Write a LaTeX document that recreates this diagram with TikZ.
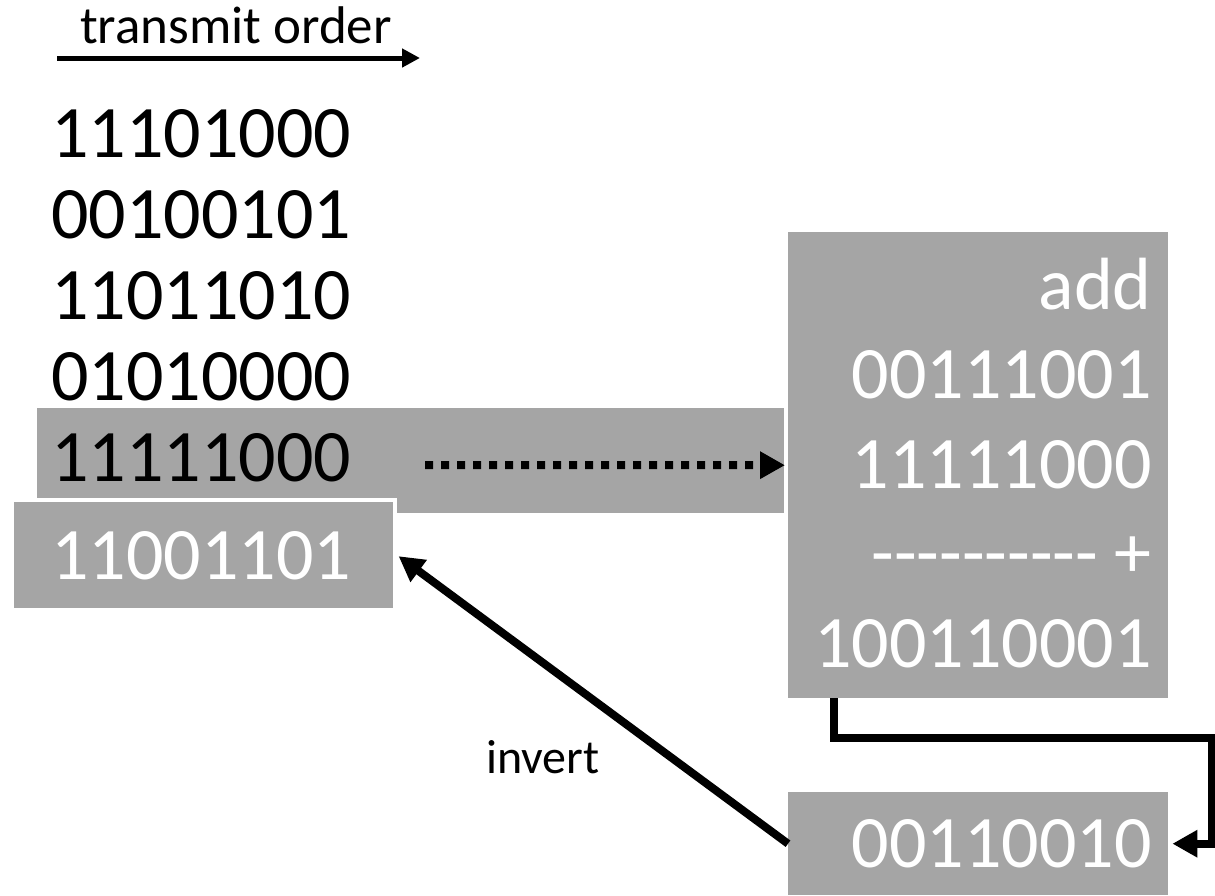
\documentclass[tikz,border=0pt]{standalone}
\usepackage{fontspec}
\setmainfont{Carlito}[Ligatures=TeXOff]
\usetikzlibrary{positioning, arrows.meta}
\definecolor{boxgrey}{RGB}{165,165,165}
\tikzset{
    greybox/.style={fill=boxgrey, inner sep=0pt, anchor=north west}, % grey panels
    bits/.style={font=\fontsize{74}{88}\selectfont, inner sep=0pt}, % big digit rows
    link/.style={line width=8pt, -{Triangle[length=25pt, width=26pt]}}, % thick connectors
}

\begin{document}
\begin{tikzpicture}[x=1pt, y=-1pt]
    \useasboundingbox (0,0) rectangle (1215,895);

    % panels
    \node[greybox, minimum width=747, minimum height=105] (sumrow) at (37,408) {};
    \node[greybox, draw=white, line width=4pt, minimum width=383, minimum height=110] (check) at (10,498) {};
    \node[greybox, minimum width=380, minimum height=466] (addbox) at (788,232) {};
    \node[greybox, minimum width=380, minimum height=103] (result) at (788,792) {};

    % data words
    \node[bits, anchor=base west] (r1) at (51,157) {11101000};
    \node[bits, below=81pt of r1.base west, anchor=base west] (r2) {00100101};
    \node[bits, below=81pt of r2.base west, anchor=base west] (r3) {11011010};
    \node[bits, below=81pt of r3.base west, anchor=base west] (r4) {01010000};
    \node[bits, below=81pt of r4.base west, anchor=base west] (r5) {11111000};
    \node[bits, text=white, below=98pt of r5.base west, anchor=base west] (r6) {11001101};

    % the sum
    \node[bits, text=white, anchor=base east] (a0) at (1152,309) {add};
    \node[bits, text=white, below=89.5pt of a0.base east, anchor=base east] (a1) {00111001};
    \node[bits, text=white, below=89.5pt of a1.base east, anchor=base east] (a2) {11111000};
    \node[bits, text=white, below=89.5pt of a2.base east, anchor=base east] (a3) {---------- +};
    \node[bits, text=white, below=89.5pt of a3.base east, anchor=base east] (a4) {100110001};
    \node[bits, text=white, anchor=base east] (res) at (1152,867) {00110010};

    % labels
    \node[font=\fontsize{53}{62}\selectfont, inner sep=0pt, anchor=base] (order) at (236,43) {transmit order};
    \node[font=\fontsize{48}{56}\selectfont, inner sep=0pt, anchor=base] (inv) at (543,773) {invert};

    % arrows
    \coordinate (tx0) at (57,58);
    \coordinate (tx1) at (420,58);
    \draw[line width=5pt, -{Triangle[length=18pt, width=18pt]}] (tx0) -- (tx1);

    \coordinate (dotstart) at (425,465);
    \draw[link, dash pattern=on 8pt off 8pt, shorten >=3pt] (dotstart) -- (addbox.west);

    \coordinate (bend) at (1212,738);
    \draw[link, shorten >=4pt] ([xshift=46pt]addbox.south west) |- (bend) |- (result.east);

    \draw[link, shorten >=2pt] (result.west) -- (check.east);
\end{tikzpicture}
\end{document}
